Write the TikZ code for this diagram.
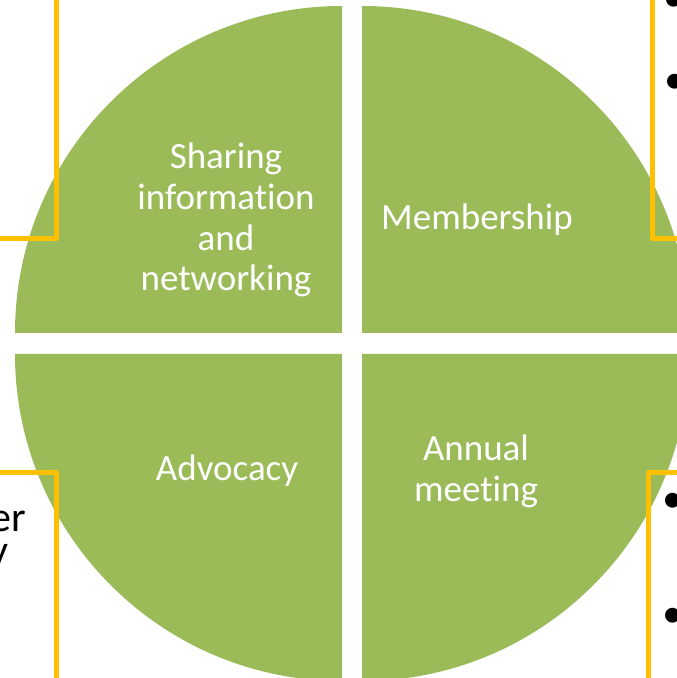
\documentclass[tikz,border=0pt]{standalone}
\usepackage{fontspec}
\setmainfont{Carlito}[Ligatures=NoCommon]
\usetikzlibrary{calc}
\definecolor{leaf}{HTML}{9BBB59}
\definecolor{gold}{HTML}{FFC000}

\begin{document}
\begin{tikzpicture}[x=1pt, y=1pt,
	quad/.style={fill=leaf},
	frame/.style={draw=gold, line width=5pt, line join=round},
	label/.style={text=white, align=center, font=\fontsize{37}{40.8}\selectfont},
	side/.style={font=\fontsize{42}{42}\selectfont, inner sep=0pt}]

	\def\R{327} % radius of the quarters

	\useasboundingbox (0,0) rectangle (677,678);
	\clip (0,0) rectangle (677,678);

	% corners of the quarters
	\coordinate (TL) at (342,345);
	\coordinate (TR) at (362,345);
	\coordinate (BL) at (342,324);
	\coordinate (BR) at (362,324);

	% quarters
	\fill[quad] (TL) -- ++(-\R,0) arc[start angle=180, end angle=90, radius=\R pt] -- cycle;
	\fill[quad] (TR) -- ++(0,\R) arc[start angle=90, end angle=0, radius=\R pt] -- cycle;
	\fill[quad] (BL) -- ++(0,-\R) arc[start angle=270, end angle=180, radius=\R pt] -- cycle;
	\fill[quad] (BR) -- ++(\R,0) arc[start angle=0, end angle=-90, radius=\R pt] -- cycle;

	% frames of the side boxes
	\draw[frame] (56,690) -- (56,439) -- (-10,439);
	\draw[frame] (652,690) -- (652,439) -- (690,439);
	\draw[frame] (-10,205) -- (56,205) -- (56,-10);
	\draw[frame] (690,205) -- (648,205) -- (648,-10);

	% labels
	\node[label] (share) at (226,458) {Sharing\\information\\and\\networking};
	\node[label] (member) at (477,458) {Membership};
	\node[label] (advocacy) at (227,207) {Advocacy};
	\node[label] (annual) at (476,207) {Annual\\meeting};

	% side text
	\node[side, anchor=base east, text depth=0pt] (er) at (26,146) {er};
	\node[side, anchor=base east, text height=19pt] (y) at (9,113) {y};

	% bullets
	\node[side, anchor=base] (b1) at (674,666) {•};
	\node[side, anchor=base] (b2) at (675,584) {•};
	\node[side, anchor=base] (b3) at (673,165) {•};
	\node[side, anchor=base] (b4) at (673,50) {•};

\end{tikzpicture}
\end{document}
